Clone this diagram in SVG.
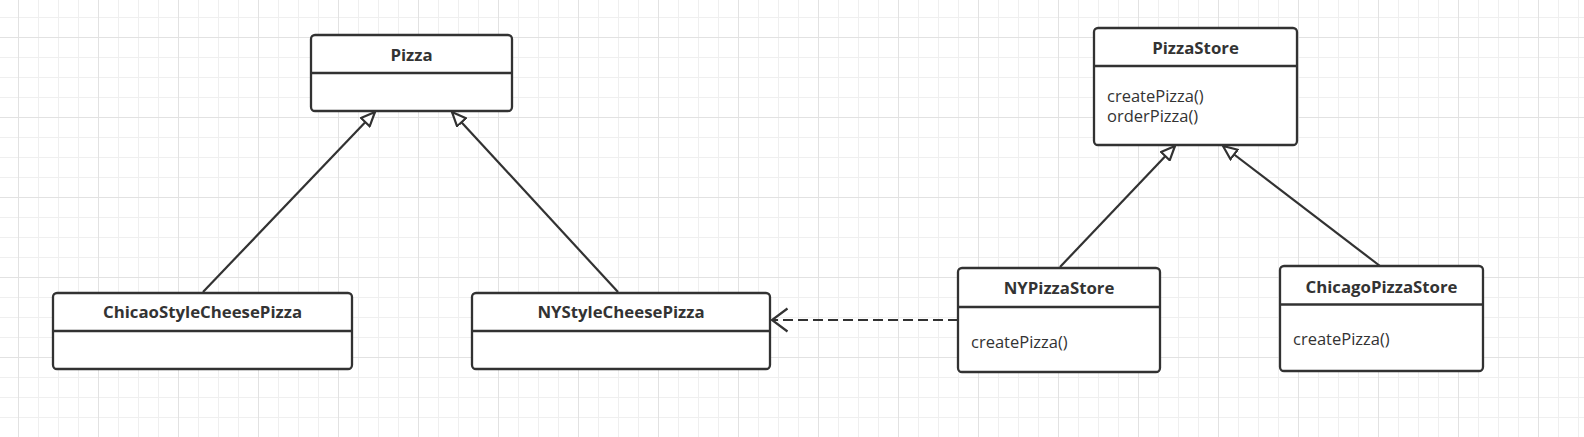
<svg xmlns="http://www.w3.org/2000/svg" width="1584" height="437" viewBox="0 0 1584 437">
<style>
.box{fill:#fff;stroke:#323232;stroke-width:2.3}
.div{stroke:#323232;stroke-width:2.3}
.title{font-family:"Open Sans","Noto Sans","Liberation Sans",sans-serif;font-size:16.8px;font-weight:700;fill:#333;text-anchor:middle}
.m{font-family:"Open Sans","Noto Sans","Liberation Sans",sans-serif;font-size:16.5px;fill:#333}
.edge{fill:none;stroke:#323232;stroke-width:2.2}
.dash{stroke-dasharray:10 5}
</style>
<defs>
<pattern id="grid" patternUnits="userSpaceOnUse" x="18" y="37" width="80" height="80">
<path d="M20.5 0V80M40.5 0V80M60.5 0V80M0 20.5H80M0 40.5H80M0 60.5H80" stroke="#efefef" stroke-width="1" fill="none"/>
<path d="M0.5 0V80M0 0.5H80" stroke="#e2e2e2" stroke-width="1" fill="none"/>
</pattern>
<marker id="tri" markerUnits="userSpaceOnUse" viewBox="0 0 16 14" refX="15" refY="7" markerWidth="16" markerHeight="14" orient="auto">
<path d="M1 1L15 7L1 13Z" fill="#fff" stroke="#323232" stroke-width="2.2" stroke-linejoin="miter"/>
</marker>
</defs>
<rect width="1584" height="437" fill="#fff"/>
<rect width="1584" height="437" fill="url(#grid)"/>
<g id="connectors">
<path class="edge" d="M203 292L375 112" marker-end="url(#tri)"/>
<path class="edge" d="M618 292L452 112" marker-end="url(#tri)"/>
<path class="edge" d="M1060 267L1175 146" marker-end="url(#tri)"/>
<path class="edge" d="M1380 266L1223 146" marker-end="url(#tri)"/>
<path class="edge dash" d="M958 320H773"/>
<path class="edge" d="M787.5 308.5L772 320L787.5 331.5"/>
</g>
<g id="Pizza">
<rect class="box" x="311" y="35" width="201" height="76" rx="4"/>
<line class="div" x1="311" y1="73" x2="512" y2="73"/>
<text class="title" x="411.5" y="60.5">Pizza</text>
</g>
<g id="PizzaStore">
<rect class="box" x="1094" y="28" width="203" height="117" rx="4"/>
<line class="div" x1="1094" y1="66" x2="1297" y2="66"/>
<text class="title" x="1195.5" y="54">PizzaStore</text>
<text class="m" x="1107" y="102">createPizza()</text>
<text class="m" x="1107" y="122">orderPizza()</text>
</g>
<g id="ChicaoStyleCheesePizza">
<rect class="box" x="53" y="293" width="299" height="76" rx="4"/>
<line class="div" x1="53" y1="331" x2="352" y2="331"/>
<text class="title" x="202.5" y="317.5">ChicaoStyleCheesePizza</text>
</g>
<g id="NYStyleCheesePizza">
<rect class="box" x="472" y="293" width="298" height="76" rx="4"/>
<line class="div" x1="472" y1="331" x2="770" y2="331"/>
<text class="title" x="621" y="317.5">NYStyleCheesePizza</text>
</g>
<g id="NYPizzaStore">
<rect class="box" x="958" y="268" width="202" height="104" rx="4"/>
<line class="div" x1="958" y1="307" x2="1160" y2="307"/>
<text class="title" x="1059" y="294">NYPizzaStore</text>
<text class="m" x="971" y="348">createPizza()</text>
</g>
<g id="ChicagoPizzaStore">
<rect class="box" x="1280" y="266" width="203" height="105" rx="4"/>
<line class="div" x1="1280" y1="304.5" x2="1483" y2="304.5"/>
<text class="title" x="1381.5" y="292.5">ChicagoPizzaStore</text>
<text class="m" x="1293" y="345">createPizza()</text>
</g>
</svg>
